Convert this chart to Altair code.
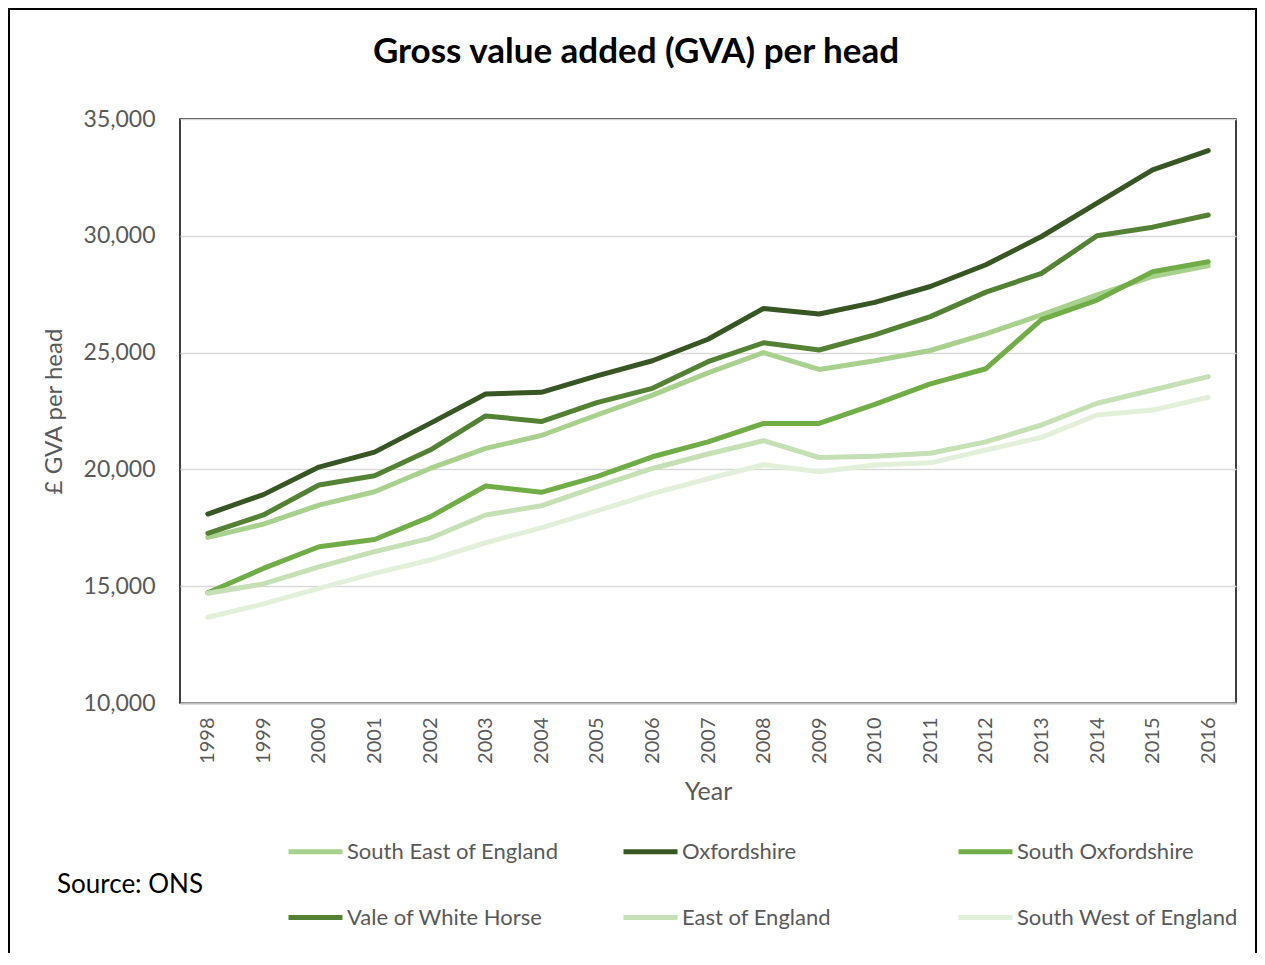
import altair as alt
import pandas as pd

years = [str(y) for y in range(1998, 2017)]

series_names = [
    "South East of England",
    "Oxfordshire",
    "South Oxfordshire",
    "Vale of White Horse",
    "East of England",
    "South West of England",
]
series_colors = ["#A9D18E", "#375623", "#70AD47", "#548235", "#C5E0B4", "#E2F0D9"]

south_east = [17090, 17660, 18470, 19045, 20040, 20900, 21450, 22330, 23180, 24130,
              25000, 24280, 24650, 25090, 25800, 26610, 27470, 28260, 28720]
oxfordshire = [18090, 18920, 20100, 20740, 21970, 23230, 23300, 24000, 24650, 25570,
               26890, 26650, 27150, 27830, 28760, 29970, 31400, 32820, 33650]
south_oxon = [14720, 15760, 16690, 17000, 17970, 19290, 19020, 19690, 20540, 21180,
              21970, 21970, 22780, 23660, 24310, 26410, 27250, 28460, 28890]
vale = [17265, 18050, 19330, 19730, 20830, 22290, 22050, 22860, 23470, 24610,
        25420, 25110, 25760, 26540, 27590, 28390, 30000, 30370, 30890]
east = [14700, 15100, 15830, 16480, 17050, 18050, 18440, 19260, 20040, 20660,
        21230, 20510, 20560, 20690, 21180, 21900, 22830, 23400, 23970]
south_west = [13670, 14240, 14910, 15550, 16120, 16860, 17500, 18220, 18960, 19600,
              20200, 19900, 20190, 20280, 20830, 21370, 22330, 22540, 23090]

y_ticks = [10000, 15000, 20000, 25000, 30000, 35000]
title_text = ["Gross value added (GVA) per head"]
source_text = ["Source: ONS"]

all_series = [south_east, oxfordshire, south_oxon, vale, east, south_west]
rows = []
for order, (name, vals) in enumerate(zip(series_names, all_series)):
    for yr, v in zip(years, vals):
        rows.append({"Year": yr, "Region": name, "GVA": v, "order": order})
df = pd.DataFrame(rows)

FONT = "Lato"
GREY = "#595959"

lines = alt.Chart(df).mark_line(strokeWidth=5, strokeCap="round", strokeJoin="round").encode(
    x=alt.X("Year:O", scale=alt.Scale(type="point", padding=0.5),
            axis=alt.Axis(title="Year", labelAngle=-90, labelFontSize=20, labelColor=GREY,
                          labelPadding=14, labelBaseline="middle", labelAlign="right",
                          ticks=False, domainColor="#bfbfbf", domainWidth=2,
                          titleFontSize=25, titleColor=GREY, titleFontWeight="normal",
                          titlePadding=16, grid=False)),
    y=alt.Y("GVA:Q", scale=alt.Scale(domain=[10000, 35000], nice=False, zero=False),
            axis=alt.Axis(title="£ GVA per head", values=y_ticks, format=",.0f",
                          labelFontSize=23, labelColor=GREY, labelPadding=25,
                          ticks=False, domain=False, gridColor="#d9d9d9", gridWidth=1.5,
                          titleFontSize=24, titleColor=GREY, titleFontWeight="normal",
                          titleX=-114, titleY=292)),
    color=alt.Color("Region:N", scale=alt.Scale(domain=series_names, range=series_colors),
                    legend=alt.Legend(title=None, orient="none", legendX=106, legendY=703,
                                      direction="horizontal", columns=3, gridAlign="all",
                                      columnPadding=44, rowPadding=25, symbolType="stroke",
                                      symbolStrokeWidth=5, symbolSize=2916, labelLimit=400,
                                      labelFontSize=22, labelColor=GREY, labelOffset=2)),
    order=alt.Order("order:Q"),
    detail="Region:N",
)

title = alt.Chart(pd.DataFrame({"t": title_text})).mark_text(
    align="center", baseline="middle", fontSize=35, font=FONT, fontWeight="bold", color="#000000"
).encode(text="t:N", x=alt.value(456), y=alt.value(-67))

source = alt.Chart(pd.DataFrame({"t": source_text})).mark_text(
    align="left", baseline="middle", fontSize=26, font=FONT, color="#000000"
).encode(text="t:N", x=alt.value(-123), y=alt.value(766))

border = alt.Chart(pd.DataFrame({"a": [0]})).mark_rect(
    fill=None, stroke="#000000", strokeWidth=2
).encode(x=alt.value(-171), x2=alt.value(1076), y=alt.value(-110), y2=alt.value(900))

chart = alt.layer(lines, title, source, border).properties(
    width=1056, height=584,
    autosize=alt.AutoSizeParams(type="none"),
    padding={"left": 172, "top": 111, "right": 21, "bottom": 250},
).configure(font=FONT).configure_view(stroke="#000000", strokeWidth=1.5)

chart.save("out.html", embed_options={"renderer": "svg", "actions": False})
